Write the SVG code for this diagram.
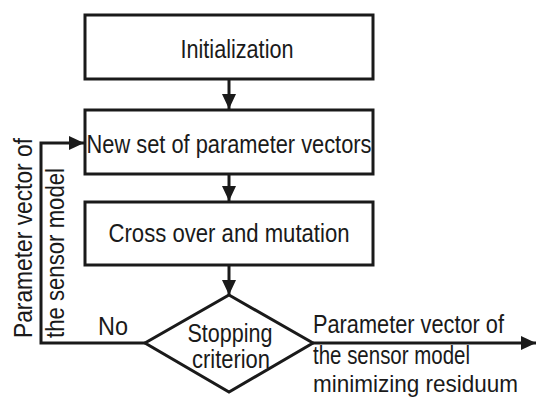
<svg xmlns="http://www.w3.org/2000/svg" width="536" height="399" viewBox="0 0 536 399">
<style>
  .box { fill: #ffffff; stroke: #1a1a1a; stroke-width: 3; }
  .line { fill: none; stroke: #1a1a1a; stroke-width: 3; }
  text { font-family: "Liberation Sans", Arial, sans-serif; font-size: 25px; fill: #1a1a1a; }
  .c { text-anchor: middle; }
</style>
<defs>
  <marker id="arrow" markerUnits="userSpaceOnUse" markerWidth="16" markerHeight="14" refX="15" refY="7" orient="auto">
    <path d="M0,0 L15,7 L0,14 Z" fill="#1a1a1a"/>
  </marker>
</defs>
<rect width="536" height="399" fill="#ffffff"/>
<g id="connectors">
  <line class="line" x1="229" y1="79" x2="229" y2="109" marker-end="url(#arrow)"/>
  <line class="line" x1="229" y1="174" x2="229" y2="201" marker-end="url(#arrow)"/>
  <line class="line" x1="229" y1="265" x2="229" y2="295" marker-end="url(#arrow)"/>
  <polyline class="line" points="145,343 41,343 41,143 84,143" marker-end="url(#arrow)"/>
  <line class="line" x1="313" y1="343" x2="536" y2="343" marker-end="url(#arrow)"/>
  <text x="98" y="335" textLength="30" lengthAdjust="spacingAndGlyphs">No</text>
  <text x="313" y="333" textLength="191" lengthAdjust="spacingAndGlyphs">Parameter vector of</text>
  <text x="313" y="364" textLength="157" lengthAdjust="spacingAndGlyphs">the sensor model</text>
  <text x="313" y="392" style="font-size:24px" textLength="205" lengthAdjust="spacingAndGlyphs">minimizing residuum</text>
  <text transform="translate(32,338) rotate(-90)" textLength="200" lengthAdjust="spacingAndGlyphs">Parameter vector of</text>
  <text transform="translate(64,338) rotate(-90)" textLength="170" lengthAdjust="spacingAndGlyphs">the sensor model</text>
</g>
<g id="init">
  <rect class="box" x="85" y="15" width="288" height="64"/>
  <text class="c" x="237" y="58" textLength="113" lengthAdjust="spacingAndGlyphs">Initialization</text>
</g>
<g id="newset">
  <rect class="box" x="85" y="110" width="288" height="64"/>
  <text class="c" x="229" y="153" textLength="285" lengthAdjust="spacingAndGlyphs">New set of parameter vectors</text>
</g>
<g id="crossover">
  <rect class="box" x="85" y="202" width="288" height="63"/>
  <text class="c" x="229" y="242" textLength="241" lengthAdjust="spacingAndGlyphs">Cross over and mutation</text>
</g>
<g id="stopping">
  <polygon class="box" points="229,295 313,343 229,392 145,343"/>
  <text class="c" x="230" y="342" textLength="85" lengthAdjust="spacingAndGlyphs">Stopping</text>
  <text class="c" x="231" y="368" textLength="78" lengthAdjust="spacingAndGlyphs">criterion</text>
</g>
</svg>
